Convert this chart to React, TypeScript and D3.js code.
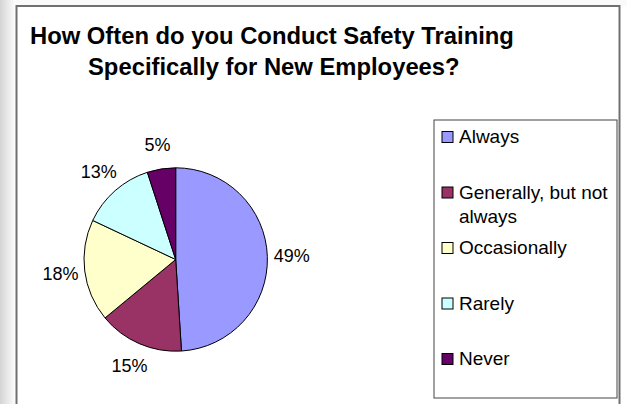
import React from "react";
import * as d3 from "d3";

const titleLines = ["How Often do you Conduct Safety Training", "Specifically for New Employees?"];
const categories = ["Always", "Generally, but not always", "Occasionally", "Rarely", "Never"];
const legendLines = [["Always"], ["Generally, but not", "always"], ["Occasionally"], ["Rarely"], ["Never"]];
const values = [49, 15, 18, 13, 5];
const colors = ["#9999FF", "#993366", "#FFFFCC", "#CCFFFF", "#660066"];

const W = 627;
const H = 404;
const cx = 175.7;
const cy = 259.5;
const R = 91.7;

export default function App() {
  const pie = d3.pie<number>().sort(null).startAngle(0).endAngle(2 * Math.PI);
  const arcs = pie(values);
  const arcGen = d3.arc<d3.PieArcDatum<number>>().innerRadius(0).outerRadius(R);
  const labelArc = d3.arc<d3.PieArcDatum<number>>().innerRadius(2 * (R + 24.5)).outerRadius(0);
  const total = d3.sum(values);
  const fmt = (v: number) => `${Math.round((v / total) * 100)}%`;

  const legendX = 434;
  const legendY = 120;
  const legendW = 183;
  const legendH = 278;
  const rowY = d3.scaleLinear().domain([0, 1]).range([143, 198.5]);

  return (
    <svg
      width={W}
      height={H}
      style={{ position: "absolute", left: 0, top: 0, background: "#fff" }}
      fontFamily="'Liberation Sans', Arial, sans-serif"
    >
      <defs>
        <linearGradient id="lg" x1="0" x2="1" y1="0" y2="0">
          <stop offset="0" stopColor="#d4d4d4" />
          <stop offset="1" stopColor="#ffffff" />
        </linearGradient>
      </defs>
      <rect x={0} y={0} width={16} height={H} fill="url(#lg)" />
      <rect x={16} y={0} width={W - 16} height={6} fill="#fafafa" />
      <rect x={16.5} y={6} width={603} height={H + 10} fill="#fff" stroke="#707070" strokeWidth={2} />

      {titleLines.map((t, i) => (
        <text
          key={i}
          x={i === 0 ? 30 : 88}
          y={i === 0 ? 44 : 75}
          fontSize={23.8}
          fontWeight="bold"
          fill="#000"
        >
          {t}
        </text>
      ))}

      <g transform={`translate(${cx},${cy})`}>
        {arcs.map((a, i) => (
          <path key={i} d={arcGen(a) || ""} fill={colors[i]} stroke="#000" strokeWidth={1} />
        ))}
        {arcs.map((a, i) => {
          const [x, y] = labelArc.centroid(a);
          return (
            <text
              key={i}
              x={x}
              y={y}
              textAnchor="middle"
              dominantBaseline="central"
              fontSize={18}
              fill="#000"
            >
              {fmt(a.data)}
            </text>
          );
        })}
      </g>

      <rect x={legendX} y={legendY} width={legendW} height={legendH} fill="#fff" stroke="#444" strokeWidth={1} />
      {categories.map((c, i) => {
        const by = rowY(i);
        return (
          <g key={c}>
            <rect x={442} y={by - 11.5} width={11} height={11} fill={colors[i]} stroke="#000" strokeWidth={1} />
            {legendLines[i].map((ln, j) => (
              <text key={j} x={459} y={by + j * 24.5} fontSize={19} fill="#000">
                {ln}
              </text>
            ))}
          </g>
        );
      })}
    </svg>
  );
}
